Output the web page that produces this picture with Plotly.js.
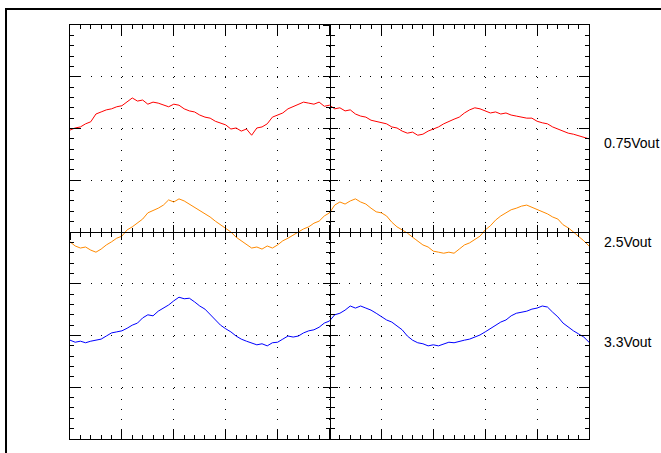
<!DOCTYPE html>
<html>
<head>
<meta charset="utf-8">
<script src="https://cdn.plot.ly/plotly-3.0.1.min.js"></script>
<style>
  html, body { margin: 0; padding: 0; background: #ffffff; }
  #chart { width: 661px; height: 453px; }
</style>
</head>
<body>
<div id="chart"></div>
<script>
// Oscilloscope capture: 10 horizontal divisions, 8 vertical divisions.
// Samples every 0.1 division, starting at division 0.
const sampleStart = 0;
const sampleStep = 0.1;

const seriesNames = ["0.75Vout", "2.5Vout", "3.3Vout"];
const seriesColors = ["#ff0000", "#ff8a00", "#0000ff"];

// Trace values in vertical divisions (centre line = 0)
const vout075 = [
  1.97, 2.01, 2.03, 2.09, 2.13, 2.28, 2.32, 2.36, 2.38, 2.42,
  2.44, 2.51, 2.59, 2.53, 2.55, 2.47, 2.51, 2.49, 2.45, 2.42,
  2.47, 2.45, 2.38, 2.34, 2.32, 2.26, 2.22, 2.20, 2.14, 2.11,
  2.07, 1.99, 2.01, 1.95, 1.99, 1.87, 2.01, 2.03, 2.09, 2.22,
  2.26, 2.30, 2.38, 2.42, 2.47, 2.51, 2.49, 2.47, 2.51, 2.43,
  2.45, 2.38, 2.40, 2.34, 2.36, 2.28, 2.24, 2.22, 2.16, 2.14,
  2.11, 2.09, 2.03, 2.01, 1.95, 1.91, 1.93, 1.87, 1.89, 1.95,
  1.99, 2.03, 2.09, 2.14, 2.18, 2.22, 2.30, 2.36, 2.40, 2.38,
  2.34, 2.30, 2.32, 2.28, 2.30, 2.26, 2.24, 2.22, 2.20, 2.20,
  2.14, 2.11, 2.09, 2.03, 1.99, 1.95, 1.91, 1.89, 1.86, 1.84,
  1.80
];
const vout25 = [
  -0.19, -0.27, -0.31, -0.29, -0.35, -0.39, -0.33, -0.25, -0.19, -0.12,
  -0.08, 0.04, 0.10, 0.17, 0.25, 0.37, 0.41, 0.46, 0.52, 0.62,
  0.58, 0.64, 0.60, 0.54, 0.48, 0.41, 0.35, 0.29, 0.21, 0.14,
  0.08, 0.00, -0.10, -0.17, -0.25, -0.31, -0.29, -0.33, -0.27, -0.31,
  -0.25, -0.17, -0.12, -0.06, 0.00, 0.06, 0.10, 0.17, 0.21, 0.31,
  0.37, 0.52, 0.58, 0.54, 0.60, 0.64, 0.58, 0.54, 0.46, 0.39,
  0.37, 0.31, 0.19, 0.10, 0.04, -0.02, -0.10, -0.17, -0.25, -0.29,
  -0.37, -0.39, -0.41, -0.39, -0.41, -0.33, -0.25, -0.21, -0.15, -0.08,
  0.04, 0.12, 0.23, 0.31, 0.37, 0.43, 0.46, 0.50, 0.52, 0.48,
  0.43, 0.39, 0.35, 0.29, 0.25, 0.14, 0.08, 0.00, -0.08, -0.17,
  -0.27
];
const vout33 = [
  -2.09, -2.13, -2.11, -2.14, -2.11, -2.09, -2.07, -2.01, -1.95, -1.93,
  -1.91, -1.86, -1.80, -1.76, -1.66, -1.60, -1.62, -1.53, -1.47, -1.41,
  -1.33, -1.26, -1.29, -1.28, -1.35, -1.43, -1.49, -1.60, -1.70, -1.80,
  -1.87, -1.93, -2.01, -2.07, -2.11, -2.14, -2.18, -2.16, -2.20, -2.14,
  -2.13, -2.07, -2.01, -2.03, -2.01, -1.95, -1.91, -1.89, -1.84, -1.76,
  -1.72, -1.60, -1.57, -1.51, -1.43, -1.47, -1.43, -1.47, -1.51, -1.57,
  -1.64, -1.70, -1.74, -1.82, -1.89, -2.01, -2.09, -2.14, -2.16, -2.20,
  -2.18, -2.20, -2.16, -2.13, -2.14, -2.11, -2.09, -2.07, -2.03, -1.99,
  -1.93, -1.87, -1.80, -1.74, -1.70, -1.62, -1.57, -1.55, -1.53, -1.49,
  -1.47, -1.43, -1.45, -1.55, -1.64, -1.76, -1.84, -1.91, -1.97, -2.03,
  -2.13
];
const seriesValues = [vout075, vout25, vout33];

// Label positions (paper fraction of plot height)
const labelY = [0.716, 0.477, 0.235];

const traces = seriesValues.map((vals, i) => ({
  type: 'scatter',
  mode: 'lines',
  name: seriesNames[i],
  x0: sampleStart,
  dx: sampleStep,
  y: vals,
  line: { color: seriesColors[i], width: 1 },
  hoverinfo: 'skip',
  showlegend: false
}));

// Empty carriers so the centre-cross axes are drawn
traces.push({ type: 'scatter', mode: 'lines', x: [], y: [], xaxis: 'x2', yaxis: 'y2', showlegend: false, hoverinfo: 'skip' });
traces.push({ type: 'scatter', mode: 'lines', x: [], y: [], xaxis: 'x3', yaxis: 'y3', showlegend: false, hoverinfo: 'skip' });

const baseAxis = {
  showline: true,
  linecolor: '#000000',
  linewidth: 1,
  mirror: 'allticks',
  ticks: 'inside',
  ticklen: 10,
  tickwidth: 1,
  tickcolor: '#000000',
  dtick: 1,
  tick0: 0,
  showticklabels: false,
  zeroline: false,
  showgrid: true,
  gridcolor: '#000000',
  gridwidth: 1,
  fixedrange: true,
  minor: { dtick: 0.2, tick0: 0, ticks: 'inside', ticklen: 4, tickwidth: 1, tickcolor: '#000000', showgrid: false }
};

function centerAxis(overlay, dir) {
  return {
    overlaying: overlay,
    anchor: 'free',
    position: 0.5,
    range: overlay === 'x' ? [0, 10] : [-4, 4],
    showline: true,
    linecolor: '#000000',
    linewidth: 1,
    ticks: dir,
    ticklen: 7,
    tickwidth: 1,
    tickcolor: '#000000',
    dtick: 1,
    tick0: 0,
    showticklabels: false,
    zeroline: false,
    showgrid: false,
    fixedrange: true,
    minor: { dtick: 0.2, tick0: 0, ticks: dir, ticklen: 4, tickwidth: 1, tickcolor: '#000000', showgrid: false }
  };
}

const layout = {
  width: 661,
  height: 453,
  margin: { l: 70, r: 72, t: 25, b: 14, pad: 0 },
  paper_bgcolor: '#ffffff',
  plot_bgcolor: '#ffffff',
  showlegend: false,
  font: { family: 'Liberation Sans, Arial, sans-serif', size: 14, color: '#000000' },
  xaxis: Object.assign({}, baseAxis, { range: [0, 10], griddash: '1px,9.38px' }),
  yaxis: Object.assign({}, baseAxis, { range: [-4, 4], griddash: '1px,9.35px' }),
  xaxis2: centerAxis('x', 'outside'),
  xaxis3: centerAxis('x', 'inside'),
  yaxis2: Object.assign(centerAxis('y', 'outside'), { side: 'left' }),
  yaxis3: Object.assign(centerAxis('y', 'inside'), { side: 'left' }),
  shapes: [{
    type: 'rect',
    xref: 'paper', yref: 'paper',
    x0: -0.1233, x1: 1.3,
    y0: -0.2, y1: 1.0386,
    line: { color: '#000000', width: 2 },
    fillcolor: 'rgba(0,0,0,0)',
    layer: 'below'
  }],
  annotations: seriesNames.map((n, i) => ({
    text: n,
    xref: 'paper', yref: 'paper',
    x: 1.025, y: labelY[i],
    xanchor: 'left', yanchor: 'middle',
    showarrow: false,
    font: { family: 'Liberation Sans, Arial, sans-serif', size: 14, color: '#000000' }
  }))
};

Plotly.newPlot('chart', traces, layout, { staticPlot: true, displayModeBar: false });
</script>
</body>
</html>
